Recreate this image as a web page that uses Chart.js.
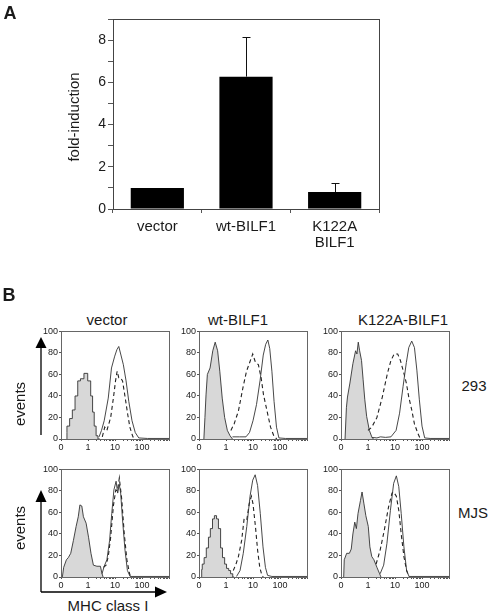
<!DOCTYPE html>
<html>
<head>
<meta charset="utf-8">
<script src="https://cdn.jsdelivr.net/npm/chart.js@4.4.0/dist/chart.umd.min.js"></script>
<style>
  body { margin: 0; background: #fff; width: 491px; height: 613px; position: relative; overflow: hidden;
         font-family: "Liberation Sans", Arial, sans-serif; }
  canvas { position: absolute; }
  .lbl { position: absolute; color: #1a1a1a; font-size: 15px; line-height: 1; white-space: nowrap;
         transform: translate(-50%, -50%); }
  .rot { transform: translate(-50%, -50%) rotate(-90deg); }
  .panel { font-weight: bold; font-size: 18px; }
  svg { position: absolute; left: 0; top: 0; }
</style>
</head>
<body>
<canvas id="chartA" width="391" height="262" style="left:0;top:0"></canvas>

<div class="lbl panel" style="left:10px;top:13px">A</div>
<div class="lbl panel" style="left:9px;top:295px">B</div>
<div class="lbl rot" style="left:73px;top:117px">fold-induction</div>
<div class="lbl" style="left:107px;top:319px">vector</div>
<div class="lbl" style="left:238px;top:319px">wt-BILF1</div>
<div class="lbl" style="left:403px;top:319px">K122A-BILF1</div>
<div class="lbl" style="left:474px;top:385px">293</div>
<div class="lbl" style="left:473px;top:512px">MJS</div>
<div class="lbl rot" style="left:19px;top:404px">events</div>
<div class="lbl rot" style="left:19px;top:528px">events</div>
<div class="lbl" style="left:108px;top:605px">MHC class I</div>

<svg width="491" height="613">
  <g stroke="#000" stroke-width="1.3" fill="none">
    <line x1="41" y1="435" x2="41" y2="346"/>
    <line x1="41" y1="592" x2="41" y2="501"/>
    <line x1="41" y1="592" x2="156" y2="592"/>
  </g>
  <g fill="#000">
    <polygon points="41,337 35.5,348 46.5,348"/>
    <polygon points="41,490 35.5,502 46.5,502"/>
    <polygon points="167,592 155,586.5 155,597.5"/>
  </g>
</svg>

<script>
// Panel A: reporter fold-induction
const categories = ['vector', 'wt-BILF1', ['K122A', 'BILF1']];
const foldInduction = [1.0, 6.27, 0.8];
const errorUp = [0, 1.86, 0.43];

// Panel B: histograms, x in display decades (0 -> "0", 1 -> "1", 2 -> "10", 3 -> "100")
const xTickValues = [0, 1, 2, 3];
const xTickLabels = ['0', '1', '10', '100'];

// 293 cells
const vec293Iso = [[0.22,0],[0.22,6],[0.32,12],[0.42,19],[0.52,27],[0.62,40],[0.72,54],[0.85,56],[0.99,61],[1.1,54],[1.17,40],[1.23,25],[1.3,12],[1.37,3],[1.44,0]];
const vec293Solid = [[1.41,2],[1.5,8],[1.6,17],[1.75,38],[1.87,66],[1.99,77],[2.07,83],[2.14,86],[2.22,78],[2.31,69],[2.41,54],[2.51,35],[2.63,17],[2.75,6],[2.88,1],[3.2,0.5],[4,0.5]];
const vec293Dashed = [[1.53,2],[1.62,11],[1.7,8],[1.84,20],[1.94,38],[2.02,54],[2.08,63],[2.14,57],[2.2,57],[2.28,54],[2.38,38],[2.47,23],[2.55,11],[2.65,3],[2.7,0]];

const wt293Iso = [[0.18,0],[0.22,20],[0.26,41],[0.31,60],[0.41,66],[0.51,82],[0.6,90],[0.69,82],[0.77,63],[0.86,38],[0.95,20],[1.05,8],[1.15,3],[1.24,0]];
const wt293Solid = [[1.24,2],[1.5,2],[1.74,2],[1.87,6],[2.0,17],[2.13,32],[2.26,54],[2.38,78],[2.47,88],[2.55,92],[2.62,84],[2.7,63],[2.78,35],[2.87,11],[2.96,1],[3.2,0.5],[4,0.5]];
const wt293Dashed = [[1.18,8],[1.3,14],[1.46,26],[1.63,48],[1.76,63],[1.89,72],[1.99,79],[2.08,72],[2.2,69],[2.3,57],[2.39,41],[2.52,26],[2.65,11],[2.77,3],[2.88,0]];

const k122293Iso = [[0.15,0],[0.2,29],[0.24,39],[0.33,52],[0.44,70],[0.54,82],[0.59,79],[0.64,90],[0.69,82],[0.76,73],[0.82,55],[0.88,37],[0.95,21],[1.05,8],[1.14,2],[1.2,0]];
const k122293Solid = [[1.14,1.5],[1.33,1],[1.46,2],[1.65,1.5],[1.85,2],[2.04,8],[2.17,24],[2.3,49],[2.42,71],[2.51,85],[2.62,91],[2.72,85],[2.81,64],[2.9,37],[3.0,12],[3.1,1],[3.3,0.5],[4,0.5]];
const k122293Dashed = [[1.0,8],[1.14,11],[1.33,20],[1.53,39],[1.72,61],[1.85,73],[1.97,79],[2.1,79],[2.2,73],[2.33,61],[2.42,52],[2.51,39],[2.62,27],[2.72,14],[2.85,5],[2.94,0]];

// MJS cells
const vecMjsIso = [[0.05,0],[0.1,9],[0.2,16],[0.27,18],[0.36,22],[0.46,34],[0.56,47],[0.64,56],[0.7,67],[0.77,66],[0.83,56],[0.93,50],[1.02,37],[1.11,22],[1.2,11],[1.33,10],[1.46,10],[1.52,3],[1.56,0]];
const vecMjsSolid = [[1.52,3],[1.6,10],[1.7,16],[1.8,34],[1.88,59],[1.96,81],[2.04,89],[2.1,78],[2.16,86],[2.21,78],[2.28,53],[2.37,25],[2.46,6],[2.56,0.5],[4,0.5]];
const vecMjsDashed = [[1.57,9],[1.67,11],[1.75,19],[1.84,37],[1.94,66],[2.03,81],[2.09,80],[2.16,92],[2.25,72],[2.34,41],[2.44,16],[2.54,3],[2.58,0]];

const wtMjsIso = [[0.1,0],[0.12,7],[0.19,12],[0.27,18],[0.35,27],[0.42,37],[0.5,45],[0.57,54],[0.65,57],[0.72,54],[0.8,45],[0.87,27],[0.95,18],[1.02,12],[1.1,8],[1.17,6],[1.25,3],[1.3,0]];
const wtMjsSolid = [[1.39,0.5],[1.52,6],[1.64,22],[1.77,47],[1.89,75],[1.99,90],[2.08,95],[2.17,85],[2.27,59],[2.37,28],[2.46,9],[2.54,1.5],[2.7,0.5],[4,0.5]];
const wtMjsDashed = [[1.27,6],[1.37,12],[1.46,19],[1.58,34],[1.67,54],[1.77,53],[1.86,68],[1.94,75],[2.0,68],[2.09,47],[2.17,25],[2.25,9],[2.33,1.5],[2.38,0]];

const k122MjsIso = [[0.1,0],[0.12,16],[0.21,22],[0.31,22],[0.38,26],[0.44,40],[0.51,51],[0.57,45],[0.63,59],[0.72,71],[0.78,79],[0.85,68],[0.92,57],[1.01,47],[1.07,28],[1.14,19],[1.22,16],[1.33,9],[1.43,3],[1.48,0]];
const k122MjsSolid = [[1.45,3],[1.58,11],[1.7,31],[1.83,62],[1.95,87],[2.05,94],[2.14,84],[2.23,59],[2.33,28],[2.43,6],[2.52,0.5],[4,0.5]];
const k122MjsDashed = [[1.3,12],[1.45,25],[1.6,43],[1.76,65],[1.89,78],[1.95,79],[2.05,75],[2.14,62],[2.23,40],[2.33,19],[2.43,6],[2.52,0.5]];

Chart.defaults.font.family = '"Liberation Sans", Arial, sans-serif';
Chart.defaults.color = '#1a1a1a';

// Box around the plot area
const framePlugin = {
  id: 'frame',
  defaults: { color: '#444' },
  afterDraw(chart, args, opts) {
    const {ctx, chartArea: a} = chart;
    ctx.save();
    ctx.strokeStyle = opts.color;
    ctx.lineWidth = 1;
    ctx.strokeRect(Math.round(a.left) + 0.5, Math.round(a.top) + 0.5,
                   Math.round(a.right - a.left), Math.round(a.bottom - a.top));
    ctx.restore();
  }
};

// Upward error bars with a small cap
const errorBarPlugin = {
  id: 'errorBars',
  afterDatasetsDraw(chart) {
    const {ctx} = chart;
    const y = chart.scales.y;
    const meta = chart.getDatasetMeta(0);
    ctx.save();
    ctx.strokeStyle = '#111';
    ctx.lineWidth = 1;
    meta.data.forEach((bar, i) => {
      if (!errorUp[i]) return;
      const top = Math.round(y.getPixelForValue(foldInduction[i] + errorUp[i])) + 0.5;
      const x = Math.round(bar.x) + 0.5;
      ctx.beginPath();
      ctx.moveTo(x, bar.y);
      ctx.lineTo(x, top);
      ctx.moveTo(x - 4, top);
      ctx.lineTo(x + 4, top);
      ctx.stroke();
    });
    ctx.restore();
  }
};

new Chart(document.getElementById('chartA'), {
  type: 'bar',
  data: {
    labels: categories,
    datasets: [{
      data: foldInduction,
      backgroundColor: '#000',
      borderWidth: 0,
      barPercentage: 0.6,
      categoryPercentage: 1
    }]
  },
  options: {
    responsive: false,
    animation: false,
    events: [],
    layout: { padding: { top: 19, right: 12, left: 0, bottom: 0 } },
    plugins: { legend: { display: false }, tooltip: { enabled: false } },
    scales: {
      x: {
        afterFit: s => { s.height = 53; },
        ticks: { font: { size: 15, lineHeight: 1.07 }, padding: 6, maxRotation: 0, autoSkip: false },
        grid: { drawOnChartArea: false, tickLength: 4, color: '#555', offset: true },
        border: { display: false }
      },
      y: {
        min: 0, max: 9,
        afterFit: s => { s.width = 113; },
        ticks: { stepSize: 1, font: { size: 14 }, padding: 2, callback: v => (v % 2 === 0 ? v : '') },
        grid: { drawOnChartArea: false, tickLength: 5, color: '#555' },
        border: { display: false }
      }
    }
  },
  plugins: [framePlugin, errorBarPlugin]
});

// minor x ticks: log steps within each decade
const xTickPos = [0, 1, 2, 3, 4];
for (let d = 1; d < 4; d++) {
  for (let k = 2; k < 10; k++) xTickPos.push(d + Math.log10(k));
}

const Y_AXIS_W = 30, X_AXIS_H = 16, PAD_T = 6, PAD_R = 8, AREA = 108;

function histChart(left, top, iso, solid, dashed, stepped) {
  const c = document.createElement('canvas');
  c.width = Y_AXIS_W + AREA + PAD_R;
  c.height = PAD_T + AREA + X_AXIS_H;
  c.style.left = (left - Y_AXIS_W) + 'px';
  c.style.top = (top - PAD_T) + 'px';
  document.body.appendChild(c);
  new Chart(c, {
    type: 'line',
    data: {
      datasets: [
        { data: solid, borderColor: '#333', borderWidth: 0.9, pointRadius: 0, fill: false },
        { data: dashed, borderColor: '#222', borderWidth: 1.1, borderDash: [4, 3], pointRadius: 0, fill: false },
        { data: iso, borderColor: '#333', borderWidth: 0.9, backgroundColor: '#d8d8d8', pointRadius: 0,
          fill: 'origin', stepped: stepped ? 'after' : false }
      ]
    },
    options: {
      responsive: false,
      animation: false,
      events: [],
      layout: { padding: { top: PAD_T, right: PAD_R, left: 0, bottom: 0 } },
      plugins: { legend: { display: false }, tooltip: { enabled: false }, frame: { color: '#666' } },
      scales: {
        x: {
          type: 'linear', min: 0, max: 4,
          afterFit: s => { s.height = X_AXIS_H; },
          afterBuildTicks: s => { s.ticks = xTickPos.map(v => ({ value: v })); },
          ticks: {
            autoSkip: false, maxRotation: 0, padding: 1, font: { size: 9 },
            callback: v => { const i = xTickValues.indexOf(v); return i < 0 ? '' : xTickLabels[i]; }
          },
          grid: { drawOnChartArea: false, tickLength: 2, color: '#555' },
          border: { display: false }
        },
        y: {
          min: 0, max: 100,
          afterFit: s => { s.width = Y_AXIS_W; },
          ticks: { stepSize: 10, padding: 1, font: { size: 9 }, callback: v => (v % 20 === 0 ? v : '') },
          grid: { drawOnChartArea: false, tickLength: 2, color: '#555' },
          border: { display: false }
        }
      }
    },
    plugins: [framePlugin]
  });
}

histChart(61, 331, vec293Iso, vec293Solid, vec293Dashed, true);
histChart(199, 331, wt293Iso, wt293Solid, wt293Dashed, false);
histChart(341, 331, k122293Iso, k122293Solid, k122293Dashed, false);
histChart(61, 469, vecMjsIso, vecMjsSolid, vecMjsDashed, false);
histChart(199, 469, wtMjsIso, wtMjsSolid, wtMjsDashed, true);
histChart(341, 469, k122MjsIso, k122MjsSolid, k122MjsDashed, false);
</script>
</body>
</html>
